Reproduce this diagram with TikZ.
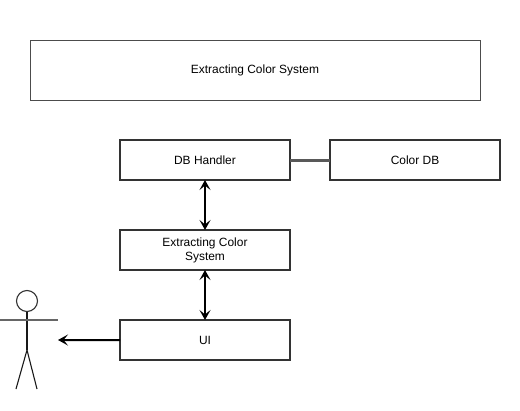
\documentclass[tikz,border=0pt]{standalone}
\usepackage{fontspec}
\setmainfont{Liberation Sans}
\usepackage{tikz}
\usetikzlibrary{arrows.meta,positioning}

\begin{document}
\begin{tikzpicture}[
  node distance=1cm,
  box/.style={draw=black!80, line width=0.04cm, outer sep=0pt, minimum width=3.4cm, minimum height=0.8cm, align=center, font=\fontsize{6.8}{8}\selectfont, inner sep=0pt},
  titlebox/.style={draw=black!70, line width=0.018cm, outer sep=0pt, minimum width=9cm, minimum height=1.2cm, font=\fontsize{6.8}{8}\selectfont},
  arr/.style={line width=0.04cm, {Stealth[length=2mm,width=2.2mm,inset=0.9mm]}-{Stealth[length=2mm,width=2.2mm,inset=0.9mm]}},
  oneway/.style={line width=0.04cm, -{Stealth[length=2mm,width=2.2mm,inset=0.9mm]}},
  limb/.style={line width=0.022cm, black!90}
]
  \useasboundingbox (0,0) rectangle (10.4,-8.2);

  \node[titlebox] (title) at (5.1,-1.4) {Extracting Color System};
  \node[box] (dbh) at (4.1,-3.2) {DB Handler};
  \node[box, right=0.8cm of dbh] (cdb) {Color DB};
  \node[box, below=1cm of dbh] (ecs) {Extracting Color\\System};
  \node[box, below=1cm of ecs] (ui) {UI};

  % stick figure
  \node[draw=black!80, circle, line width=0.022cm, minimum size=0.42cm, inner sep=0pt] (head) at (0.54,-6.02) {};
  \coordinate (armL) at (0,-6.4);
  \coordinate (armR) at (1.16,-6.4);
  \coordinate (hip) at (0.54,-7);
  \coordinate (footL) at (0.32,-7.78);
  \coordinate (footR) at (0.74,-7.78);
  \coordinate (user) at (1.16,-6.8);
  \draw[limb] (head) -- (hip);
  \draw[limb] (footL) -- (hip) -- (footR);
  \draw[line width=0.03cm, black!60] (armL) -- (armR);

  \draw[line width=0.06cm, black!65] (dbh) -- (cdb);
  \draw[arr] (dbh) -- (ecs);
  \draw[arr] (ecs) -- (ui);
  \draw[oneway] (ui) -- (user);
\end{tikzpicture}
\end{document}
